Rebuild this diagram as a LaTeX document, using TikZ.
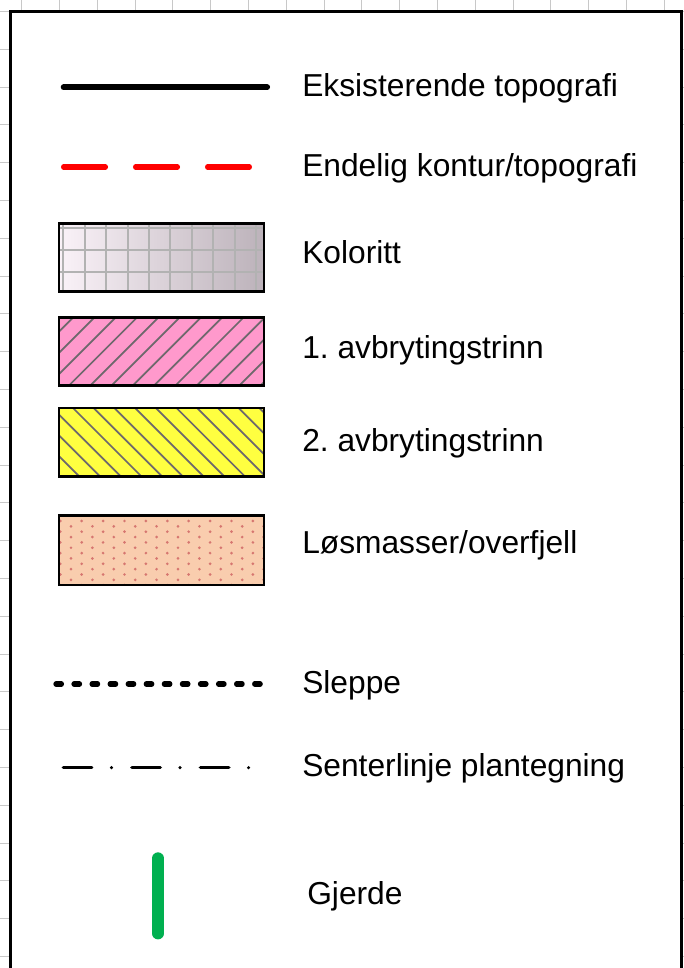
\documentclass[tikz,border=0pt]{standalone}
\usepackage{fontspec}
\setmainfont{Liberation Sans}
\usepackage{tikz}
\definecolor{gl}{RGB}{200, 200, 200}
\definecolor{kl}{RGB}{250, 242, 248}
\definecolor{kr}{RGB}{188, 178, 186}
\definecolor{kg}{RGB}{178, 178, 178}
\definecolor{pk}{RGB}{255, 153, 204}
\definecolor{yl}{RGB}{255, 255, 64}
\definecolor{pe}{RGB}{249, 205, 174}
\definecolor{pd}{RGB}{214, 118, 112}
\definecolor{gr}{RGB}{0, 176, 80}
\definecolor{hg}{RGB}{110, 104, 108}
\usetikzlibrary{positioning}

\begin{document}
\frenchspacing
\begin{tikzpicture}[x=0.75pt, y=-0.75pt,
  lbl/.style={anchor=base west, inner sep=0pt, font=\fontsize{23.8pt}{28pt}\selectfont},
  swatch/.style={draw=black, line width=1.9pt},
  hatch/.style={color=hg, line width=1.3pt},
  gridline/.style={color=gl, line width=0.75pt}]
\clip (0, 0) rectangle (684, 968);
\fill [white] (0, 0) rectangle (684, 968);
% background grid
\foreach \k in {0,...,17} \draw [gridline] ({21.7+37.8*\k}, 0) -- ({21.7+37.8*\k}, 968);
\foreach \k in {0,...,25} \draw [gridline] (0, {11.5+37.8*\k}) -- (684, {11.5+37.8*\k});
% frame
\draw [fill=white, line width=2.25pt] (10.5, 11.5) rectangle (681.5, 1000);
% line samples
\coordinate (ek1) at (63.6, 87.3);
\coordinate (ek2) at (267.2, 87.3);
\coordinate (en1) at (63.65, 167);
\coordinate (en2) at (249.35, 167);
\draw [line width=4.3pt, line cap=round, color=black] (ek1) -- (ek2);
\draw [line width=4pt, line cap=round, color=red, dash pattern=on 31.3pt off 22.7pt] (en1) -- (en2);
% Koloritt
\shade [left color=kl, right color=kr] (59, 223.3) rectangle (264, 291.7);
\begin{scope}
\clip (59, 223.3) rectangle (264, 291.7);
\foreach \k in {0,...,9} \draw [color=kg, line width=1.5pt] ({63.3+21.4*\k}, 223.3) -- ({63.3+21.4*\k}, 291.7);
\foreach \k in {0,...,3} \draw [color=kg, line width=1.5pt] (59, {228.3+21.7*\k}) -- (264, {228.3+21.7*\k});
\end{scope}
\draw [swatch] (59, 223.3) rectangle (264, 291.7);
% 1. avbrytingstrinn
\fill [pk] (59, 317.3) rectangle (264, 385.7);
\begin{scope}
\clip (59, 317.3) rectangle (264, 385.7);
\foreach \h in {0,...,13} \draw [hatch] ({-16.4+21.3*\h}, 385.7) -- ++(68.4, -68.4);
\end{scope}
\draw [swatch] (59, 317.3) rectangle (264, 385.7);
% 2. avbrytingstrinn
\fill [yl] (59, 408) rectangle (264, 476.4);
\begin{scope}
\clip (59, 408) rectangle (264, 476.4);
\foreach \h in {0,...,13} \draw [hatch] ({-9.8+20.7*\h}, 408) -- ++(68.4, 68.4);
\end{scope}
\draw [swatch] (59, 408) rectangle (264, 476.4);
% Losmasser
\fill [pe] (59, 515.7) rectangle (264, 585);
\begin{scope}
\clip (59, 515.7) rectangle (264, 585);
\foreach \i in {0,...,19} \foreach \j in {0,...,6}
  \fill [pd] ({60.3+10.7*\i}, {521+5.35*mod(\i,2)+10.7*\j}) circle (1.1pt);
\end{scope}
\draw [swatch] (59, 515.7) rectangle (264, 585);
% Sleppe, Senterlinje, Gjerde
\coordinate (sl1) at (56, 684);
\coordinate (sl2) at (260.5, 684);
\coordinate (se1) at (63.35, 767.7);
\coordinate (se2) at (250.5, 767.7);
\coordinate (gj1) at (158, 858.2);
\coordinate (gj2) at (158, 933.5);
\draw [line width=4pt, line cap=round, dash pattern=on 4.05pt off 9.5pt] (sl1) -- (sl2);
\draw [line width=2.6pt, line cap=round, dash pattern=on 21.3pt off 14.8pt on 0pt off 15.3pt] (se1) -- (se2);
\draw [line width=8.8pt, line cap=round, color=gr] (gj1) -- (gj2);
% labels
\node (t1) [lbl] at (302, 96.7) {Eksisterende topografi};
\node (t2) [lbl] at (302, 176.7) {Endelig kontur/topografi};
\node (t3) [lbl] at (302, 263.3) {Koloritt};
\node (t4) [lbl] at (302, 358.8) {1. avbrytingstrinn};
\node (t5) [lbl] at (302, 451.7) {2. avbrytingstrinn};
\node (t6) [lbl] at (302, 553.3) {Løsmasser/overfjell};
\node (t7) [lbl] at (302, 693.3) {Sleppe};
\node (t8) [lbl] at (302, 776.7) {Senterlinje plantegning};
\node (t9) [lbl] at (307, 904) {Gjerde};
\end{tikzpicture}
\end{document}
